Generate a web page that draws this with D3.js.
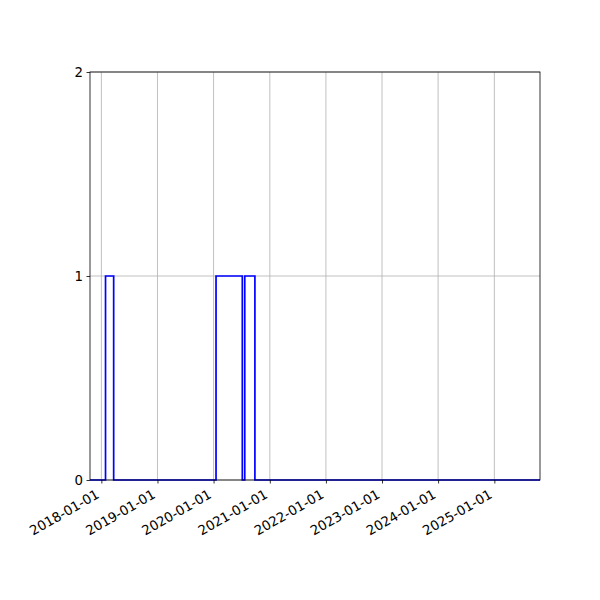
<!DOCTYPE html>
<html>
<head>
<meta charset="utf-8">
<script src="https://cdnjs.cloudflare.com/ajax/libs/d3/7.8.5/d3.min.js"></script>
<style>
    body { margin: 0; background: white; }
    svg { display: block; }
    .tick text { font-family: "DejaVu Sans", sans-serif; font-size: 13.33px; fill: black; }
</style>
</head>
<body>
<svg id="chart" width="600" height="600"></svg>
<script>
// step data
const stepDates = ["2017-10-19", "2018-01-28", "2018-03-22", "2020-01-17",
    "2020-07-06", "2020-07-22", "2020-09-26", "2025-10-25"];
const stepValues = [0, 1, 0, 1, 0, 1, 0, 0];

const xTickLabels = ["2018-01-01", "2019-01-01", "2020-01-01", "2021-01-01",
    "2022-01-01", "2023-01-01", "2024-01-01", "2025-01-01"];
const yTickValues = [0, 1, 2];

const xLimits = ["2017-10-19", "2025-10-25"];
const yLimits = [0, 2];

const margin = {left: 90, right: 60, top: 72, bottom: 120};
const width = 600, height = 600;

let svg = d3.select("#chart");
const parseDate = d3.timeParse("%Y-%m-%d");

let points = stepDates.map((d, i) => ({date: parseDate(d), value: stepValues[i]}));

let x = d3.scaleTime()
    .domain(xLimits.map(parseDate))
    .range([margin.left, width - margin.right]);

let y = d3.scaleLinear()
    .domain(yLimits)
    .range([height - margin.bottom, margin.top]);

const plotTop = margin.top, plotBottom = height - margin.bottom;
const plotLeft = margin.left, plotRight = width - margin.right;

// grid lines
let grid = svg.append("g");
grid.selectAll("line.vx")
    .data(xTickLabels)
    .join("line")
    .attr("x1", d => x(parseDate(d)))
    .attr("x2", d => x(parseDate(d)))
    .attr("y1", plotTop)
    .attr("y2", plotBottom)
    .style("stroke", "#b0b0b0")
    .style("stroke-width", 0.8);
grid.selectAll("line.hy")
    .data(yTickValues)
    .join("line")
    .attr("x1", plotLeft)
    .attr("x2", plotRight)
    .attr("y1", d => y(d))
    .attr("y2", d => y(d))
    .style("stroke", "#b0b0b0")
    .style("stroke-width", 0.8);

// clip to axes
svg.append("clipPath")
    .attr("id", "plotClip")
    .append("rect")
    .attr("x", plotLeft)
    .attr("y", plotTop - 1)
    .attr("width", plotRight - plotLeft)
    .attr("height", plotBottom - plotTop + 2);

let line = d3.line()
    .x(d => x(d.date))
    .y(d => y(d.value))
    .curve(d3.curveStepAfter);

svg.append("path")
    .datum(points)
    .attr("clip-path", "url(#plotClip)")
    .attr("d", line)
    .style("fill", "none")
    .style("stroke", "#0000ff")
    .style("stroke-width", 1.7)
    .style("stroke-linejoin", "miter");

// axes
let xAxis = d3.axisBottom(x)
    .tickValues(xTickLabels.map(parseDate))
    .tickFormat(d3.timeFormat("%Y-%m-%d"))
    .tickSize(3.5)
    .tickSizeOuter(0);

let xg = svg.append("g")
    .attr("transform", `translate(0, ${plotBottom})`)
    .call(xAxis);
xg.select(".domain").remove();
xg.selectAll(".tick line").style("stroke", "black").style("stroke-width", 0.8);
xg.selectAll(".tick text")
    .attr("text-anchor", "end")
    .attr("y", 0)
    .attr("transform", "translate(0, 20) rotate(-30)")
    .attr("dy", "-0.25em");

let yAxis = d3.axisLeft(y)
    .tickValues(yTickValues)
    .tickFormat(d3.format("d"))
    .tickSize(3.5)
    .tickPadding(3.5)
    .tickSizeOuter(0);

let yg = svg.append("g")
    .attr("transform", `translate(${plotLeft}, 0)`)
    .call(yAxis);
yg.select(".domain").remove();
yg.selectAll(".tick line").style("stroke", "black").style("stroke-width", 0.8);

// spines
svg.append("rect")
    .attr("x", plotLeft)
    .attr("y", plotTop)
    .attr("width", plotRight - plotLeft)
    .attr("height", plotBottom - plotTop)
    .style("fill", "none")
    .style("stroke", "black")
    .style("stroke-width", 0.8);
</script>
</body>
</html>
